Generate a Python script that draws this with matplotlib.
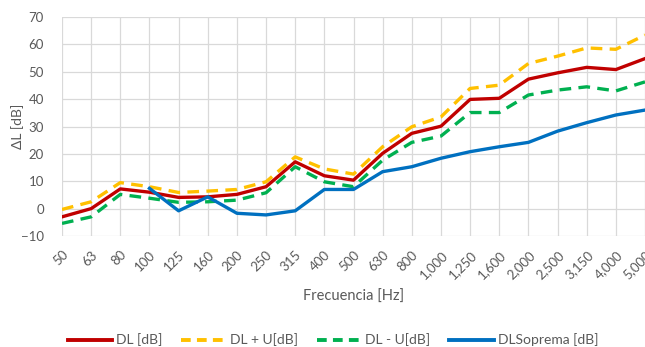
import matplotlib
matplotlib.use("Agg")
import matplotlib.pyplot as plt
from matplotlib.lines import Line2D

plt.rcParams['font.family'] = ['Lato', 'DejaVu Sans']

freqs = ["50", "63", "80", "100", "125", "160", "200", "250", "315", "400", "500",
         "630", "800", "1,000", "1,250", "1,600", "2,000", "2,500", "3,150", "4,000", "5,000"]

dl = [-3, 0, 7.2, 6, 4.1, 4.3, 5.2, 8, 17.1, 12, 10.4,
      20.2, 27.5, 30.1, 39.9, 40.3, 47.3, 49.6, 51.6, 50.8, 54.8]
dl_plus_u = [-0.3, 2.5, 9.5, 8, 5.9, 6.4, 7, 9.8, 18.9, 14.5, 12.6,
             22.6, 29.9, 33.5, 43.9, 45.1, 53, 55.7, 58.7, 58.2, 63.4]
dl_minus_u = [-5.4, -3, 5.2, 3.8, 2.3, 2.5, 3.1, 5.8, 15.3, 9.8, 8,
              17.7, 24.2, 26.5, 35.1, 35.1, 41.5, 43.3, 44.5, 43, 46.3]
dl_soprema = [None, None, None, 7.4, -0.8, 4.3, -1.7, -2.3, -0.8, 7, 7,
              13.5, 15.3, 18.4, 20.8, 22.6, 24.2, 28.3, 31.4, 34.2, 36]

txt = "#595959"
grid_c = "#d9d9d9"

fig = plt.figure(figsize=(6.45, 3.47), dpi=100)
ax = fig.add_axes([62 / 645, 1 - 236 / 347, 1 - 62 / 645, (236 - 17) / 347])

x = list(range(len(freqs)))
sx = [i for i, v in zip(x, dl_soprema) if v is not None]
sv = [v for v in dl_soprema if v is not None]

ax.plot(x, dl, color="#C00000", lw=2.4, zorder=4)
ax.plot(x, dl_plus_u, color="#FFC000", lw=2.4, dashes=(3.5, 2.2), zorder=3)
ax.plot(x, dl_minus_u, color="#00B050", lw=2.4, dashes=(3.5, 2.2), zorder=3)
ax.plot(sx, sv, color="#0070C0", lw=2.4, zorder=5)

ax.set_xlim(0, len(freqs) - 1)
ax.set_ylim(-10, 70)
ax.set_yticks(range(-10, 71, 10))
ax.set_xticks(x)
ax.set_xticklabels(freqs, rotation=45, ha="right", rotation_mode="anchor")
ax.tick_params(axis="both", length=0, colors=txt, labelsize=9.5)
ax.tick_params(axis="x", pad=9)
ax.tick_params(axis="y", pad=13)
ax.grid(True, color=grid_c, lw=0.9)
ax.set_axisbelow(True)
for s in ax.spines.values():
    s.set_visible(False)

ax.set_ylabel("ΔL [dB]", color=txt, fontsize=10)
ax.yaxis.set_label_coords((24 - 62) / 583, 0.5)
fig.text(0.5 * (62 + 645) / 645, 1 - 297 / 347, "Frecuencia [Hz]", color=txt,
         fontsize=10.5, ha="center", va="center")

handles = [
    Line2D([], [], color="#C00000", lw=2.8),
    Line2D([], [], color="#FFC000", lw=2.8, dashes=(2.5, 1.6)),
    Line2D([], [], color="#00B050", lw=2.8, dashes=(2.5, 1.6)),
    Line2D([], [], color="#0070C0", lw=2.8),
]
labels = ["DL [dB]", "DL + U[dB]", "DL - U[dB]", "DLSoprema [dB]"]
fig.legend(handles, labels, loc="center", bbox_to_anchor=(333 / 645, 1 - 340 / 347),
           ncol=4, frameon=False, fontsize=10, handlelength=3.2, handletextpad=0.3,
           columnspacing=1.35, labelcolor=txt, borderpad=0)

fig.savefig("out.png", dpi=100, facecolor="white")
